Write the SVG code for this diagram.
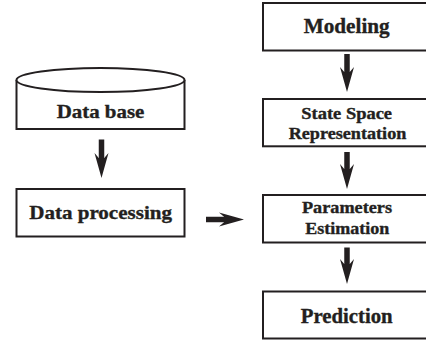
<svg xmlns="http://www.w3.org/2000/svg" width="426" height="340" viewBox="0 0 426 340">
<style>
.box{fill:#fff;stroke:#231f20;stroke-width:2}
.t{font-family:"Liberation Serif","Times New Roman",serif;font-weight:bold;fill:#231f20;stroke:#231f20;stroke-width:0.35;text-anchor:middle}
.c{stroke:#231f20;stroke-width:5.5;fill:none;marker-end:url(#ah)}
</style>
<defs>
<marker id="ah" markerUnits="userSpaceOnUse" viewBox="-6 -8 27 16" markerWidth="27" markerHeight="16" refX="0" refY="0" orient="auto">
<path d="M0,-2.75 L-5,-7 L20,0 L-5,7 L0,2.75 Z" fill="#231f20"/>
</marker>
</defs>
<rect width="426" height="340" fill="#fff"/>
<g id="connectors">
<line class="c" x1="101.5" y1="139.5" x2="101.5" y2="158"/>
<line class="c" x1="206" y1="219.5" x2="224" y2="219.5"/>
<line class="c" x1="347" y1="54" x2="347" y2="72"/>
<line class="c" x1="347" y1="152" x2="347" y2="169"/>
<line class="c" x1="347" y1="247.5" x2="347" y2="264"/>
</g>
<g id="database">
<path class="box" d="M16.5,80 V129 H184.5 V80"/>
<ellipse class="box" cx="100.5" cy="80" rx="84" ry="12"/>
<text class="t" x="100.5" y="117.7" font-size="19" textLength="87.7" lengthAdjust="spacingAndGlyphs">Data base</text>
</g>
<g id="dataprocessing">
<rect class="box" x="16.5" y="189" width="168" height="47.5"/>
<text class="t" x="100.6" y="219.3" font-size="19" textLength="142.7" lengthAdjust="spacingAndGlyphs">Data processing</text>
</g>
<g id="modeling">
<rect class="box" x="263" y="3" width="168" height="47.5"/>
<text class="t" x="346.7" y="33.3" font-size="20.5" textLength="86" lengthAdjust="spacingAndGlyphs">Modeling</text>
</g>
<g id="statespace">
<rect class="box" x="263" y="99" width="168" height="47.3"/>
<text class="t" x="346.7" y="119" font-size="16.5" textLength="90.7" lengthAdjust="spacingAndGlyphs">State Space</text>
<text class="t" x="347.5" y="138.5" font-size="16.5" textLength="117.7" lengthAdjust="spacingAndGlyphs">Representation</text>
</g>
<g id="parameters">
<rect class="box" x="263" y="195" width="168" height="47.5"/>
<text class="t" x="347" y="213.3" font-size="16.5" textLength="90" lengthAdjust="spacingAndGlyphs">Parameters</text>
<text class="t" x="347.3" y="234" font-size="16.5" textLength="84" lengthAdjust="spacingAndGlyphs">Estimation</text>
</g>
<g id="prediction">
<rect class="box" x="263" y="291.5" width="168" height="47"/>
<text class="t" x="346.7" y="322.7" font-size="20.5" textLength="92" lengthAdjust="spacingAndGlyphs">Prediction</text>
</g>
</svg>
